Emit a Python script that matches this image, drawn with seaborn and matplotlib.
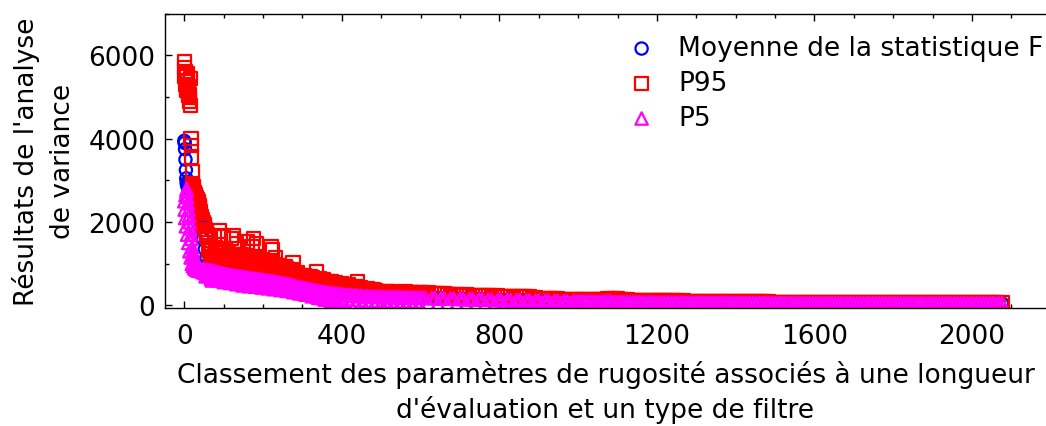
import matplotlib
matplotlib.use("Agg")
import matplotlib.pyplot as plt
import numpy as np
import pandas as pd
import seaborn as sns
from matplotlib.ticker import MultipleLocator

# ---------------------------------------------------------------------------
# Data.  x = rank in the classement (0 ... 2076).
# Values are given per segment (start rank, rank step).
# ---------------------------------------------------------------------------
SEG_HEAD = (0, 1)      # ranks 0-39
SEG_MID1 = (40, 2)     # ranks 40-398
SEG_MID2 = (400, 4)    # ranks 400-600
SEG_MEAN_MID = (40, 4) # ranks 40-600 (mean curve, hidden under the bands)
SEG_TAIL = (604, 8)    # ranks 604-2076

series_labels = ["Moyenne de la statistique F", "P95", "P5"]

mean_head = [3950, 3900, 3750, 3500, 3250, 3050, 2950, 2900, 2870, 2850,
             2830, 2810, 2800, 2790, 2780, 2770, 2760, 2750, 2740, 2730,
             2720, 2710, 2700, 2690, 2680, 2670, 2660, 2600, 2560, 2520,
             2480, 2440, 2400, 2350, 2300, 2250, 2200, 2150, 2100, 2050]
mean_mid = [1960, 1800, 1600, 1350, 1150, 1000, 940, 900, 880, 860,
            845, 830, 815, 800, 790, 780, 770, 760, 752, 745,
            740, 735, 728, 722, 716, 710, 705, 698, 692, 686,
            680, 674, 668, 662, 656, 650, 645, 640, 634, 627,
            620, 614, 608, 602, 596, 590, 584, 578, 572, 566,
            560, 553, 546, 538, 530, 522, 514, 505, 496, 486,
            476, 468, 460, 452, 444, 436, 428, 420, 412, 404,
            395, 388, 380, 373, 366, 359, 352, 345, 338, 331,
            324, 318, 312, 306, 300, 295, 290, 286, 282, 278,
            275, 272, 268, 265, 261, 258, 255, 252, 249, 246,
            243, 240, 237, 234, 231, 229, 227, 225, 223, 221,
            220, 219, 218, 217, 216, 215, 214, 213, 212, 211,
            210, 209, 208, 207, 206, 205, 204, 203, 202, 201,
            200, 199, 198, 197, 196, 195, 194, 193, 192, 191,
            190]
mean_tail = [188, 186, 184, 181, 179, 177, 174, 172, 169, 167,
             164, 162, 160, 158, 156, 153, 151, 149, 146, 144,
             141, 139, 137, 136, 134, 133, 131, 130, 129, 127,
             125, 123, 121, 120, 119, 117, 116, 114, 113, 111,
             109, 108, 106, 105, 103, 102, 101, 100, 99, 97,
             96, 95, 94, 93, 92, 91, 90, 89, 88, 87,
             86, 85, 84, 83, 82, 81, 80, 79, 78, 77,
             76, 76, 75, 74, 74, 73, 73, 72, 72, 71,
             71, 70, 70, 69, 69, 69, 68, 68, 68, 67,
             67, 67, 66, 66, 66, 65, 65, 65, 64, 64,
             64, 63, 63, 63, 63, 62, 62, 62, 62, 61,
             61, 61, 61, 60, 60, 60, 60, 60, 59, 59,
             59, 59, 59, 58, 58, 58, 58, 58, 58, 57,
             57, 57, 57, 57, 57, 56, 56, 56, 56, 56,
             56, 56, 56, 56, 56, 56, 56, 56, 56, 56,
             56, 56, 56, 56, 56, 56, 56, 56, 56, 56,
             56, 56, 56, 56, 56, 56, 56, 56, 56, 56,
             56, 56, 56, 56, 56, 56, 56, 56, 56, 56,
             56, 56, 56, 56, 56]

p95_head = [5850, 5700, 5500, 5600, 5300, 5200, 5150, 5550, 5400, 5250,
            5100, 5200, 5050, 5000, 4900, 5450, 4800, 4000, 3840, 3560,
            3200, 2920, 2850, 2800, 2750, 2700, 2680, 2650, 2620, 2600,
            2580, 2560, 2540, 2520, 2500, 2480, 2450, 2400, 2380, 2350]
p95_mid1 = [2250, 2200, 2140, 2060, 1990, 1950, 1900, 1830, 1760, 1700,
            1640, 1320, 1400, 1180, 1250, 1330, 1120, 1050, 1640, 1200,
            1390, 1100, 1260, 1320, 1790, 1150, 1670, 1060, 1370, 1280,
            1660, 1140, 1360, 1200, 1000, 1100, 1240, 1020, 1130, 1180,
            1600, 1120, 1680, 1000, 1230, 1150, 1480, 1200, 1060, 1000,
            940, 1130, 1210, 1040, 1110, 1150, 1010, 1060, 920, 990,
            1520, 1100, 1180, 980, 1080, 1120, 1400, 1030, 1600, 950,
            1140, 1060, 1480, 1000, 960, 900, 1090, 1000, 1040, 880,
            950, 980, 850, 900, 1020, 960, 930, 880, 830, 950,
            1400, 870, 1340, 920, 980, 840, 1140, 900, 880, 820,
            960, 920, 880, 830, 790, 880, 720, 780, 920, 880,
            840, 800, 770, 830, 700, 760, 860, 790, 1030, 720,
            760, 720, 680, 780, 750, 660, 700, 720, 650, 680,
            610, 640, 720, 690, 670, 640, 620, 600, 580, 650,
            690, 600, 640, 660, 600, 580, 560, 620, 800, 590,
            620, 640, 580, 560, 540, 600, 610, 550, 570, 540,
            530, 560, 500, 520, 570, 500, 540, 560, 510, 500,
            480, 520, 540, 470, 510, 500, 480, 470, 460, 480]
p95_mid2 = [520, 490, 460, 430, 490, 460, 430, 410, 460, 440,
            560, 410, 420, 400, 380, 360, 400, 380, 360, 340,
            380, 360, 340, 320, 330, 310, 300, 290, 340, 320,
            300, 290, 325, 310, 300, 285, 315, 305, 295, 285,
            325, 310, 295, 285, 310, 300, 290, 280, 300, 290,
            305]
p95_tail = [300, 290, 298, 285, 295, 292, 280, 288, 270, 262,
            258, 250, 252, 245, 248, 240, 242, 236, 238, 232,
            234, 228, 230, 224, 226, 220, 222, 216, 218, 214,
            216, 220, 218, 216, 205, 192, 182, 175, 170, 165,
            160, 158, 155, 157, 152, 150, 152, 148, 146, 147,
            143, 141, 142, 138, 137, 139, 135, 136, 148, 155,
            158, 160, 158, 152, 140, 131, 128, 125, 127, 122,
            120, 121, 118, 116, 117, 114, 112, 113, 110, 108,
            109, 106, 104, 105, 102, 100, 101, 98, 97, 98,
            95, 94, 95, 92, 91, 92, 90, 89, 90, 88,
            87, 88, 86, 85, 86, 84, 83, 84, 82, 81,
            82, 80, 80, 80, 79, 78, 79, 77, 77, 77,
            76, 75, 76, 74, 74, 74, 73, 72, 73, 71,
            71, 71, 70, 70, 70, 69, 68, 69, 68, 67,
            67, 66, 66, 66, 65, 65, 65, 64, 64, 64,
            64, 63, 63, 63, 62, 62, 62, 62, 62, 61,
            61, 61, 61, 61, 61, 60, 60, 60, 60, 60,
            60, 60, 60, 60, 60, 60, 60, 60, 60, 60,
            60, 60, 60, 60, 62]

p5_head = [2500, 2300, 2100, 2650, 1900, 2750, 2800, 1700, 2600, 2450,
           1500, 2300, 2150, 1300, 2000, 1850, 1150, 1700, 1600, 1000,
           1400, 1300, 950, 1200, 1150, 900, 1080, 1050, 870, 1000,
           980, 860, 950, 930, 840, 900, 880, 830, 860, 850]
p5_mid1 = [870, 868, 830, 800, 865, 862, 780, 700, 860, 855,
           750, 700, 850, 845, 640, 600, 835, 828, 720, 660,
           810, 805, 600, 640, 795, 782, 680, 620, 770, 762,
           560, 600, 755, 748, 650, 580, 740, 732, 540, 600,
           725, 720, 620, 560, 715, 710, 510, 560, 705, 700,
           600, 540, 695, 688, 480, 530, 680, 675, 580, 520,
           670, 662, 460, 500, 655, 650, 550, 500, 645, 640,
           450, 490, 635, 630, 530, 480, 625, 618, 430, 470,
           610, 605, 510, 460, 600, 595, 410, 450, 590, 582,
           490, 430, 575, 570, 390, 420, 565, 558, 470, 410,
           550, 545, 370, 400, 540, 532, 450, 390, 525, 518,
           350, 380, 510, 500, 420, 360, 490, 478, 320, 350,
           465, 458, 390, 320, 450, 442, 290, 310, 435, 428,
           360, 290, 420, 412, 260, 280, 405, 395, 320, 260,
           385, 378, 220, 240, 370, 362, 280, 220, 355, 348,
           180, 200, 340, 332, 250, 190, 325, 318, 140, 180,
           310, 305, 220, 150, 300, 295, 100, 140, 290, 286,
           190, 120, 282, 279, 80, 120, 276, 273, 170, 110]
p5_mid2 = [270, 70, 262, 150, 255, 60, 250, 140, 244, 55,
           238, 130, 232, 55, 226, 120, 222, 50, 218, 115,
           215, 50, 213, 110, 211, 50, 210, 105, 208, 48,
           206, 100, 204, 48, 202, 98, 200, 46, 198, 95,
           196, 46, 194, 92, 192, 45, 190, 90, 188, 45,
           186]
p5_tail = [185, 183, 60, 178, 176, 58, 171, 169, 58, 164,
           162, 57, 157, 155, 56, 150, 148, 55, 143, 141,
           55, 137, 135, 54, 132, 131, 54, 128, 127, 53,
           123, 121, 53, 118, 117, 52, 113, 112, 52, 109,
           107, 55, 104, 103, 55, 100, 99, 56, 97, 95,
           94, 93, 92, 91, 90, 89, 88, 87, 86, 85,
           84, 83, 82, 81, 80, 79, 78, 78, 77, 76,
           75, 75, 74, 73, 73, 72, 72, 71, 71, 70,
           70, 69, 69, 68, 68, 68, 67, 67, 67, 66,
           66, 66, 65, 65, 65, 64, 64, 64, 63, 63,
           63, 62, 62, 62, 62, 61, 61, 61, 61, 60,
           60, 60, 60, 59, 59, 59, 59, 59, 58, 58,
           58, 58, 58, 57, 57, 57, 57, 57, 57, 56,
           56, 56, 56, 56, 56, 55, 55, 55, 55, 55,
           55, 55, 54, 54, 54, 54, 54, 54, 54, 54,
           53, 53, 53, 53, 53, 53, 53, 53, 52, 52,
           52, 52, 52, 52, 52, 52, 52, 52, 51, 51,
           51, 51, 51, 51, 51, 51, 51, 51, 51, 51,
           51, 51, 51, 51, 56]

x_ticks = [0, 400, 800, 1200, 1600, 2000]
y_ticks = [0, 2000, 4000, 6000]
x_label = "Classement des paramètres de rugosité associés à une longueur\nd'évaluation et un type de filtre"
y_label = "Résultats de l'analyse\nde variance"


def build(segments):
    ranks, vals = [], []
    for (start, step), v in segments:
        ranks += list(range(start, start + step * len(v), step))
        vals += list(v)
    return pd.DataFrame({"rank": ranks, "value": vals})


df_mean = build([(SEG_HEAD, mean_head), (SEG_MEAN_MID, mean_mid),
                 (SEG_TAIL, mean_tail)])
df_p95 = build([(SEG_HEAD, p95_head), (SEG_MID1, p95_mid1),
                (SEG_MID2, p95_mid2), (SEG_TAIL, p95_tail)])
df_p5 = build([(SEG_HEAD, p5_head), (SEG_MID1, p5_mid1),
               (SEG_MID2, p5_mid2), (SEG_TAIL, p5_tail)])

sns.set_style("ticks")
plt.rcParams["font.family"] = ["DejaVu Sans"]
for key in ["text.color", "axes.labelcolor", "xtick.color", "ytick.color",
            "axes.edgecolor"]:
    plt.rcParams[key] = "black"

FS = 19
W, H = 1046, 427
fig = plt.figure(figsize=(W / 100, H / 100), dpi=100)
ax = fig.add_axes([165 / W, (H - 309) / H, (W - 165) / W, (309 - 14.7) / H])

styles = [
    (df_mean, "o", 78, "#0000ff"),
    (df_p95, "s", 92, "#ff0000"),
    (df_p5, "^", 80, "#ff00ff"),
]
for (df, mk, size, col), lab in zip(styles, series_labels):
    sns.scatterplot(data=df, x="rank", y="value", ax=ax, marker=mk, s=size,
                    facecolors="none", edgecolor=col, color=col,
                    linewidth=1.6, label=lab, legend=False)

ax.set_xlim(-49, 2188)
ax.set_ylim(-60, 7000)
ax.set_xticks(x_ticks)
ax.set_yticks(y_ticks)
ax.set_xticklabels([str(t) for t in x_ticks])
ax.set_yticklabels([str(t) for t in y_ticks])
ax.xaxis.set_minor_locator(MultipleLocator(100))
ax.yaxis.set_minor_locator(MultipleLocator(1000))
ax.tick_params(which="both", direction="in", top=True, right=False,
               labelsize=FS, width=1.0, colors="black")
ax.tick_params(which="major", length=5)
ax.tick_params(which="minor", length=3)
ax.tick_params(axis="x", pad=11)
ax.tick_params(axis="y", pad=7)
for side in ["left", "bottom", "top"]:
    ax.spines[side].set_linewidth(1.0)
    ax.spines[side].set_color("black")
ax.spines["right"].set_visible(False)

ax.set_xlabel(x_label, fontsize=FS, linespacing=1.35)
ax.set_ylabel(y_label, fontsize=FS, linespacing=1.49)
ax.xaxis.set_label_coords(0.5, -0.175)
ax.yaxis.set_label_coords(-0.101, 0.5)

ax.legend(loc="upper left", bbox_to_anchor=(0.526, 0.926), frameon=False,
          fontsize=FS, handlelength=1.0, handletextpad=0.89,
          labelspacing=0.34, borderpad=0, borderaxespad=0)

fig.savefig("out.png", dpi=100)
